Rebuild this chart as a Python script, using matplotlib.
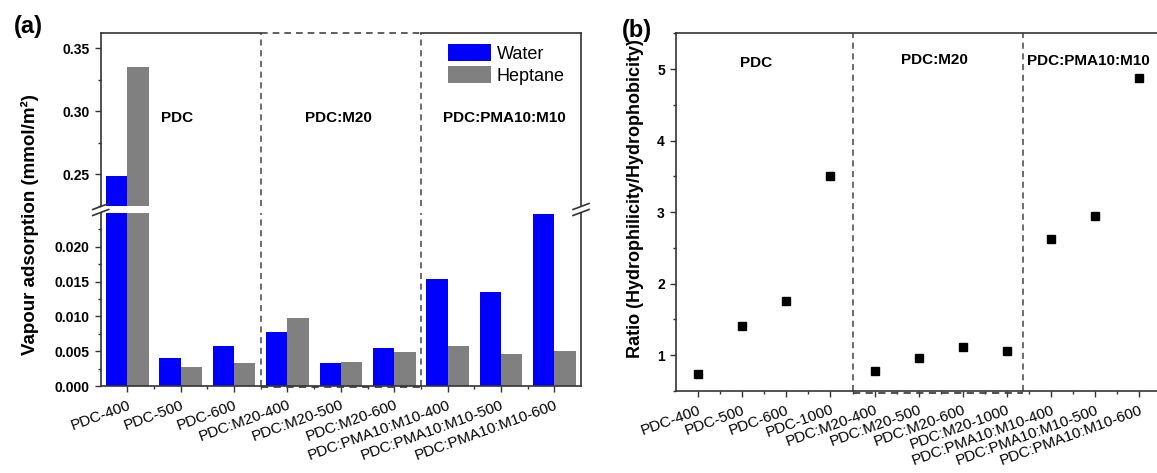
import matplotlib
matplotlib.use("Agg")
import matplotlib.pyplot as plt
import matplotlib.transforms as mtransforms
from matplotlib.lines import Line2D
from matplotlib.ticker import MultipleLocator, FormatStrFormatter
import numpy as np

plt.rcParams['font.family'] = ['Liberation Sans', 'DejaVu Sans']

# ---- data (a): vapour adsorption, mmol/m2 ----
cats_a = ["PDC-400", "PDC-500", "PDC-600",
          "PDC:M20-400", "PDC:M20-500", "PDC:M20-600",
          "PDC:PMA10:M10-400", "PDC:PMA10:M10-500", "PDC:PMA10:M10-600"]
water = [0.249, 0.0040, 0.0058, 0.0077, 0.0033, 0.0054, 0.0154, 0.0135, 0.0247]
heptane = [0.335, 0.0028, 0.0033, 0.0098, 0.0034, 0.0049, 0.0058, 0.0046, 0.0051]

# ---- data (b): ratio hydrophilicity / hydrophobicity ----
cats_b = ["PDC-400", "PDC-500", "PDC-600", "PDC-1000",
          "PDC:M20-400", "PDC:M20-500", "PDC:M20-600", "PDC:M20-1000",
          "PDC:PMA10:M10-400", "PDC:PMA10:M10-500", "PDC:PMA10:M10-600"]
ratio = [0.74, 1.41, 1.76, 3.51, 0.78, 0.96, 1.11, 1.06, 2.63, 2.95, 4.87]

W, H = 1157, 473
fig = plt.figure(figsize=(W / 100, H / 100), dpi=100)

def px(x0, y0, x1, y1):
    # pixel box (top-left origin) -> figure fraction rect
    return [x0 / W, 1 - y1 / H, (x1 - x0) / W, (y1 - y0) / H]

spine_c = '#333333'
dash_c = '#444444'
dash = (0, (4, 3))

ax_top = fig.add_axes(px(100.7, 33, 581, 206))
ax_bot = fig.add_axes(px(100.7, 212.7, 581, 386))
ax_b = fig.add_axes(px(676, 33.3, 1161.4, 391))

xa = np.arange(1, len(cats_a) + 1)
for ax in (ax_top, ax_bot):
    ax.bar(xa - 0.2, water, 0.4, color='#0000ff', label='Water')
    ax.bar(xa + 0.2, heptane, 0.4, color='#808080', label='Heptane')
    ax.set_xlim(0.5, 9.5)
    for xv in (3.5, 6.5):
        ax.axvline(xv, color=dash_c, lw=1.1, ls=dash)
    for s in ax.spines.values():
        s.set_color(spine_c)
        s.set_linewidth(1.2)
    ax.tick_params(axis='y', which='major', direction='out', length=4.5, width=1,
                   labelsize=10, colors=spine_c, labelcolor='black')
    ax.tick_params(axis='y', which='minor', direction='out', length=2.5, width=1, colors=spine_c)
    for lab in ax.get_yticklabels():
        lab.set_fontweight('bold')

ax_top.set_ylim(0.225, 0.362)
ax_top.yaxis.set_major_locator(MultipleLocator(0.05))
ax_top.yaxis.set_minor_locator(MultipleLocator(0.025))
ax_top.yaxis.set_major_formatter(FormatStrFormatter('%.2f'))
ax_top.spines['bottom'].set_visible(False)
ax_top.spines['top'].set_visible(False)
ax_top.set_xticks([])
tr = mtransforms.blended_transform_factory(ax_top.transData, ax_top.transAxes)
ax_top.plot([0.5, 3.5], [1, 1], color=spine_c, lw=1.2, transform=tr, clip_on=False)
ax_top.plot([6.5, 9.5], [1, 1], color=spine_c, lw=1.2, transform=tr, clip_on=False)
ax_top.plot([3.5, 6.5], [1, 1], color=dash_c, lw=1.2, ls=dash, transform=tr, clip_on=False)

ax_bot.set_ylim(0, 0.0249)
ax_bot.yaxis.set_major_locator(MultipleLocator(0.005))
ax_bot.yaxis.set_minor_locator(MultipleLocator(0.0025))
ax_bot.yaxis.set_major_formatter(FormatStrFormatter('%.3f'))
ax_bot.spines['top'].set_visible(False)
ax_bot.set_xticks(xa)
ax_bot.set_xticks(np.arange(1.5, 9.5, 1), minor=True)
ax_bot.set_xticklabels(cats_a, rotation=20, ha='right', va='top', rotation_mode='anchor', fontsize=11)
ax_bot.tick_params(axis='x', which='major', direction='out', length=4.5, width=1, colors=spine_c,
                   labelcolor='black', pad=4)
ax_bot.tick_params(axis='x', which='minor', direction='out', length=2.5, width=1, colors=spine_c)
for lab in ax_bot.get_yticklabels():
    lab.set_fontweight('bold')
trb = mtransforms.blended_transform_factory(ax_bot.transData, ax_bot.transAxes)
ax_bot.plot([3.5, 6.5], [-0.008, -0.008], color=dash_c, lw=1.3, ls=dash, transform=trb, clip_on=False)

ax_top.text(1.93, 0.295, "PDC", ha='center', va='center', fontsize=11, fontweight='bold')
ax_top.text(4.96, 0.295, "PDC:M20", ha='center', va='center', fontsize=11, fontweight='bold')
ax_top.text(8.06, 0.295, "PDC:PMA10:M10", ha='center', va='center', fontsize=11, fontweight='bold')

ax_top.legend(loc='upper left', bbox_to_anchor=(448 / W, 1 - 44 / H), bbox_transform=fig.transFigure,
              frameon=False, fontsize=13, borderpad=0, borderaxespad=0, handlelength=2.37,
              handleheight=1.1, handletextpad=0.33, labelspacing=0.17)

# break marks
for xb in (100.7, 581):
    for yb in (206.5, 212.5):
        fig.add_artist(Line2D([(xb - 8) / W, (xb + 8) / W], [1 - (yb + 3) / H, 1 - (yb - 3) / H],
                              color=spine_c, lw=1.2))

fig.text(30 / W, 1 - 225 / H, "Vapour adsorption (mmol/m²)", rotation=90, ha='center', va='center',
         fontsize=13.5, fontweight='bold')
fig.text(28 / W, 1 - 26 / H, "(a)", ha='center', va='center', fontsize=17, fontweight='bold')

# ---- panel (b) ----
xb_ = np.arange(1, len(cats_b) + 1)
ax_b.plot(xb_, ratio, 's', color='black', ms=6)
ax_b.set_xlim(0.5, 11.5)
ax_b.set_ylim(0.5, 5.5)
ax_b.yaxis.set_major_locator(MultipleLocator(1))
ax_b.yaxis.set_minor_locator(MultipleLocator(0.5))
ax_b.set_xticks(xb_)
ax_b.set_xticks(np.arange(1.5, 11.5, 1), minor=True)
ax_b.set_xticklabels(cats_b, rotation=20, ha='right', va='top', rotation_mode='anchor', fontsize=11)
for s in ax_b.spines.values():
    s.set_color(spine_c)
    s.set_linewidth(1.2)
ax_b.tick_params(which='major', direction='out', length=4.5, width=1, colors=spine_c,
                 labelcolor='black', labelsize=10)
ax_b.tick_params(axis='x', which='major', labelsize=11, pad=4)
ax_b.tick_params(which='minor', direction='out', length=2.5, width=1, colors=spine_c)
for lab in ax_b.get_yticklabels():
    lab.set_fontweight('bold')
for xv in (4.5, 8.37):
    ax_b.axvline(xv, color=dash_c, lw=1.1, ls=dash)
trbb = mtransforms.blended_transform_factory(ax_b.transData, ax_b.transAxes)
ax_b.plot([4.5, 8.37], [-0.006, -0.006], color=dash_c, lw=1.3, ls=dash, transform=trbb, clip_on=False)

ax_b.text(2.32, 5.09, "PDC", ha='center', va='center', fontsize=11, fontweight='bold')
ax_b.text(6.36, 5.12, "PDC:M20", ha='center', va='center', fontsize=11, fontweight='bold')
ax_b.text(8.46, 5.11, "PDC:PMA10:M10", ha='left', va='center', fontsize=11, fontweight='bold')

fig.text(636 / W, 1 - 199 / H, "Ratio (Hydrophilicity/Hydrophobicity)", rotation=90, ha='center',
         va='center', fontsize=13, fontweight='bold')
fig.text(637 / W, 1 - 30 / H, "(b)", ha='center', va='center', fontsize=17, fontweight='bold')

fig.savefig("out.png", dpi=100)
